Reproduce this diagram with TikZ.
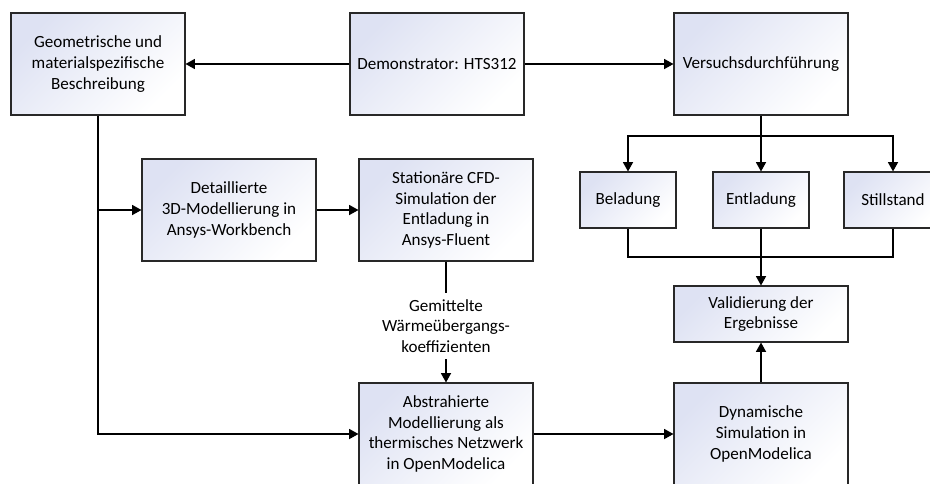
\documentclass[tikz,border=0pt]{standalone}
\usepackage{fontspec}
\setmainfont{Carlito}
\usetikzlibrary{arrows.meta}
\definecolor{boxblue}{RGB}{222,226,243}
\definecolor{boxline}{RGB}{40,40,40}
\tikzset{
  box/.style={draw=boxline, line width=0.8pt, top color=boxblue, bottom color=white, shading angle=45,
    inner sep=0pt, align=center, font=\fontsize{12.8}{15.6}\selectfont},
  bigbox/.style={box, minimum width=130.5pt, minimum height=76.5pt},
  smallbox/.style={box, minimum width=72pt, minimum height=42pt},
  lbl/.style={inner sep=0pt, align=center, minimum height=49.5pt, font=\fontsize{12.8}{15.6}\selectfont},
  conn/.style={line width=1.1pt, draw=black},
  arr/.style={conn, -{Triangle[length=7pt,width=7.5pt]}}
}
\begin{document}
\begin{tikzpicture}[x=0.75pt,y=-0.75pt]
\path[use as bounding box, clip] (0,0) rectangle (930,483);
\node[bigbox] (geo) at (98,64) {Geometrische und\\materialspezifische\\Beschreibung};
\node[bigbox] (demo) at (437,64) {Demonstrator: HTS312};
\node[bigbox] (vers) at (761,64) {Versuchsdurchführung};
\node[bigbox] (detail) at (229,210) {Detaillierte\\3D-Modellierung in\\Ansys-Workbench};
\node[bigbox] (stat) at (446,210) {Stationäre CFD-\\Simulation der\\Entladung in\\Ansys-Fluent};
\node[smallbox] (bel) at (628,200) {Beladung};
\node[smallbox] (ent) at (761,200) {Entladung};
\node[smallbox, minimum width=73.5pt] (still) at (893,200) {Stillstand};
\node[smallbox, minimum width=130.5pt] (valid) at (761,314) {Validierung der\\Ergebnisse};
\node[bigbox] (abst) at (446,434) {Abstrahierte\\Modellierung als\\thermisches Netzwerk\\in OpenModelica};
\node[bigbox] (dyn) at (761,434) {Dynamische\\Simulation in\\OpenModelica};
\node[lbl] (gem) at (446,326) {Gemittelte\\Wärmeübergangs-\\koeffizienten};
\coordinate (vj) at (761,136);
\coordinate (mj) at (761,257);
\draw[arr] (demo.west) -- (geo.east);
\draw[arr] (demo.east) -- (vers.west);
\draw[arr] (geo.south) |- (abst.west);
\draw[arr] (geo.south |- detail.west) -- (detail.west);
\draw[arr] (detail.east) -- (stat.west);
\draw[conn] (stat.south) -- (gem.north);
\draw[arr] (gem.south) -- (abst.north);
\draw[conn] (vers.south) -- (vj);
\draw[arr] (vj) -| (bel.north);
\draw[arr] (vj) -- (ent.north);
\draw[arr] (vj) -| (still.north);
\draw[conn] (bel.south) |- (mj);
\draw[conn] (still.south) |- (mj);
\draw[arr] (ent.south) -- (valid.north);
\draw[arr] (abst.east) -- (dyn.west);
\draw[arr] (dyn.north) -- (valid.south);
\end{tikzpicture}
\end{document}
